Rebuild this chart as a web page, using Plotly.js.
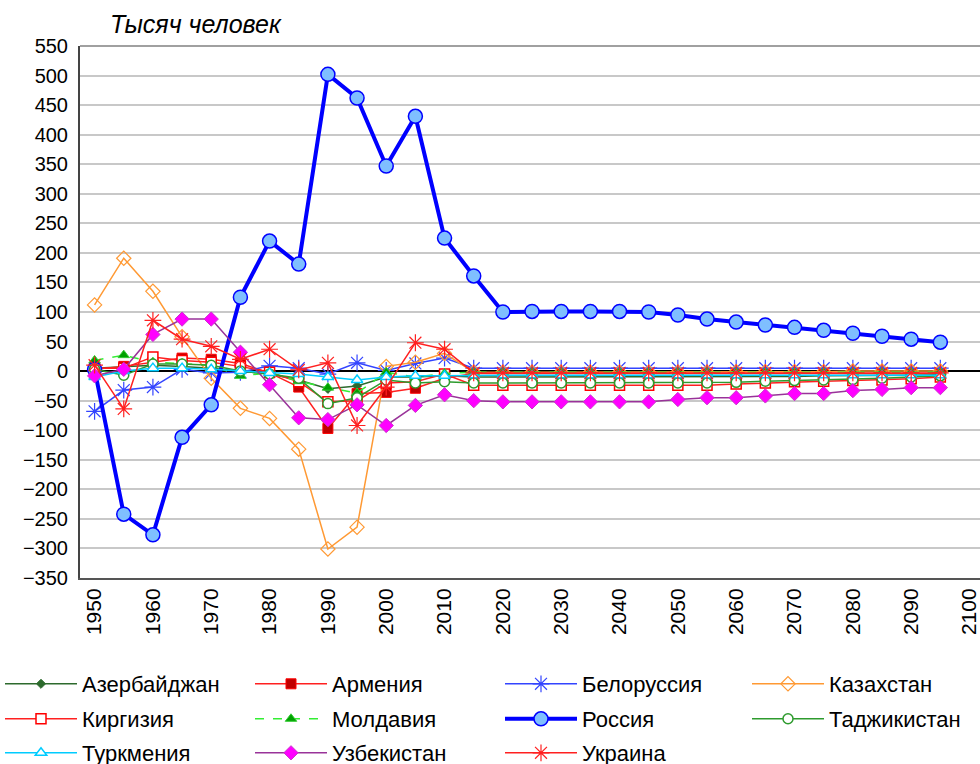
<!DOCTYPE html>
<html>
<head>
<meta charset="utf-8">
<script src="https://cdn.plot.ly/plotly-3.0.1.min.js"></script>
<style>html,body{margin:0;padding:0;background:#fff;}#chart{width:980px;height:764px;}</style>
</head>
<body>
<div id="chart"></div>
<script>
const years = [1950,1955,1960,1965,1970,1975,1980,1985,1990,1995,2000,2005,2010,2015,2020,2025,2030,2035,2040,2045,2050,2055,2060,2065,2070,2075,2080,2085,2090,2095];
const names = ["Азербайджан","Армения","Белоруссия","Казахстан","Киргизия","Молдавия","Россия","Таджикистан","Туркмения","Узбекистан","Украина"];
const xTicks = [1950,1960,1970,1980,1990,2000,2010,2020,2030,2040,2050,2060,2070,2080,2090,2100];
const yTitle = "Тысяч человек";

const azerbaijan = [5,8,10,8,5,0,-5,-15,-30,-25,-10,-10,-8,-10,-10,-10,-10,-10,-10,-10,-10,-10,-10,-9,-9,-8,-8,-7,-7,-6];
const armenia    = [3,8,15,22,20,13,-3,-27,-97,-38,-36,-29,-12,-4,-4,-4,-4,-4,-4,-4,-4,-4,-4,-4,-4,-4,-4,-4,-4,-4];
const belarus    = [-68,-32,-27,3,-3,-2,9,5,-5,14,1,13,22,5,5,5,5,5,5,5,5,5,5,5,5,5,5,5,5,5];
const kazakhstan = [112,191,135,58,-12,-63,-80,-132,-301,-264,8,15,30,-2,-2,-2,-2,-2,-2,-2,-2,-2,-1,-1,-1,-1,0,0,0,0];
const kyrgyzstan = [5,5,24,18,15,8,-2,-18,-52,-50,-20,-18,-5,-24,-24,-24,-24,-24,-24,-24,-24,-24,-22,-20,-18,-17,-16,-15,-13,-10];
const moldova    = [18,27,15,13,10,-8,-3,-17,-28,-37,-2,-10,-4,-2,-2,-2,-2,-2,-2,-2,-2,-2,-2,-2,-2,-2,-2,-2,-2,-2];
const russia     = [3,-242,-277,-112,-57,125,220,181,502,462,347,431,225,161,100,101,101,101,101,100,95,88,83,78,74,69,64,59,54,49];
const tajikistan = [3,-7,12,12,10,0,-5,-12,-55,-45,-15,-20,-18,-20,-20,-20,-20,-20,-20,-20,-20,-20,-19,-17,-16,-15,-14,-12,-10,-8];
const turkmenia  = [-10,0,5,5,3,0,-3,-5,-10,-15,-10,-8,-8,-7,-7,-7,-7,-7,-7,-7,-7,-7,-7,-7,-7,-7,-7,-7,-7,-7];
const uzbekistan = [-8,3,62,88,88,32,-23,-79,-82,-57,-92,-58,-40,-50,-52,-52,-52,-52,-52,-52,-48,-45,-45,-42,-38,-38,-33,-31,-28,-28];
const ukraine    = [10,-64,86,54,42,20,37,2,14,-92,-27,48,37,-3,-3,-3,-3,-3,-3,-3,-3,-3,-3,-3,-3,-3,-3,-3,-3,-3];

const series = [azerbaijan, armenia, belarus, kazakhstan, kyrgyzstan, moldova, russia, tajikistan, turkmenia, uzbekistan, ukraine];

const styles = [
  {line:{color:'#2D6A2D',width:1.5}, marker:{symbol:'diamond',size:7,color:'#2D6A2D',line:{color:'#2D6A2D',width:1}}},
  {line:{color:'#FF2020',width:1.5}, marker:{symbol:'square',size:10,color:'#C00000',line:{color:'#FF0000',width:1}}},
  {line:{color:'#3344FF',width:1.5}, marker:{symbol:'asterisk-open',size:14,color:'#3344FF',line:{color:'#3344FF',width:1.2}}},
  {line:{color:'#FF9933',width:1.5}, marker:{symbol:'diamond-open',size:11,color:'#FF9933',line:{color:'#FF9933',width:1.2}}},
  {line:{color:'#FF2020',width:1.5}, marker:{symbol:'square',size:10,color:'#FFFFFF',line:{color:'#FF0000',width:1.5}}},
  {line:{color:'#33EE33',width:1.5,dash:'dash'}, marker:{symbol:'triangle-up',size:10,color:'#00A000',line:{color:'#33CC33',width:1}}},
  {line:{color:'#0000FF',width:4}, marker:{symbol:'circle',size:14,color:'#7FBFFF',line:{color:'#0000FF',width:1.5}}},
  {line:{color:'#2E9B2E',width:1.5}, marker:{symbol:'circle',size:10,color:'#FFFFFF',line:{color:'#2E9B2E',width:1.5}}},
  {line:{color:'#00CCFF',width:1.5}, marker:{symbol:'triangle-up',size:10,color:'#FFFFFF',line:{color:'#00CCFF',width:1.5}}},
  {line:{color:'#993399',width:1.5}, marker:{symbol:'diamond',size:11,color:'#FF00FF',line:{color:'#CC33CC',width:1}}},
  {line:{color:'#FF2020',width:1.5}, marker:{symbol:'asterisk-open',size:14,color:'#FF2020',line:{color:'#FF2020',width:1.2}}}
];

// legend grid: 4 columns, rows filled left-to-right
const colLeft = [0, 250, 500, 747];
const rowMid = [684, 719, 753];
const legendKey = i => i === 0 ? 'legend' : 'legend' + (i + 1);

const traces = series.map((vals, i) => Object.assign({
  type:'scatter', mode:'lines+markers', x:years, y:vals, name:names[i],
  legend: legendKey(i), cliponaxis:false
}, styles[i]));

const fam = 'Liberation Sans, Arial, sans-serif';
const legendFont = {family:fam, size:22, color:'#000'};

const layout = {
  width:980, height:764,
  margin:{l:80, r:0, t:46, b:186, autoexpand:false},
  paper_bgcolor:'#fff', plot_bgcolor:'#fff',
  font:{family:fam, size:20, color:'#000'},
  showlegend:true,
  xaxis:{
    range:[1947.5, 2101.8], tickvals:xTicks, ticktext:xTicks.map(String), tickangle:-90,
    showgrid:false, zeroline:false, showline:true, linecolor:'#555', linewidth:2, mirror:false,
    ticks:'', tickfont:{family:fam, size:21, color:'#000'}, automargin:false, ticklabeloverflow:'allow'
  },
  yaxis:{
    range:[-350, 550], dtick:50, tick0:0, showgrid:true, gridcolor:'#C8C8C8', gridwidth:2,
    zeroline:true, zerolinecolor:'#000', zerolinewidth:1.5,
    showline:true, linecolor:'#444', linewidth:2, ticks:'', tickfont:{family:fam, size:20, color:'#000'},
    ticklabelstandoff:6, automargin:false
  },
  shapes:[
    {type:'line', xref:'paper', yref:'paper', x0:0, x1:1, y0:1, y1:1, line:{color:'#A0A0A0', width:2}}
  ],
  annotations:[
    {text:yTitle, xref:'paper', yref:'paper', x:0.031, y:1, xanchor:'left', yanchor:'bottom', yshift:6,
     showarrow:false, font:{family:fam, size:25, color:'#000', style:'italic'}}
  ]
};

names.forEach((n, i) => {
  const col = i % 4, row = Math.floor(i / 4);
  layout[legendKey(i)] = {
    orientation:'v', xref:'container', yref:'container',
    x: colLeft[col] / 980, xanchor:'left',
    y: 1 - rowMid[row] / 764, yanchor:'middle',
    itemwidth:72, font:legendFont, bgcolor:'rgba(0,0,0,0)',
    borderwidth:0, itemclick:false
  };
});

Plotly.newPlot('chart', traces, layout, {displayModeBar:false, staticPlot:true});
</script>
</body>
</html>
